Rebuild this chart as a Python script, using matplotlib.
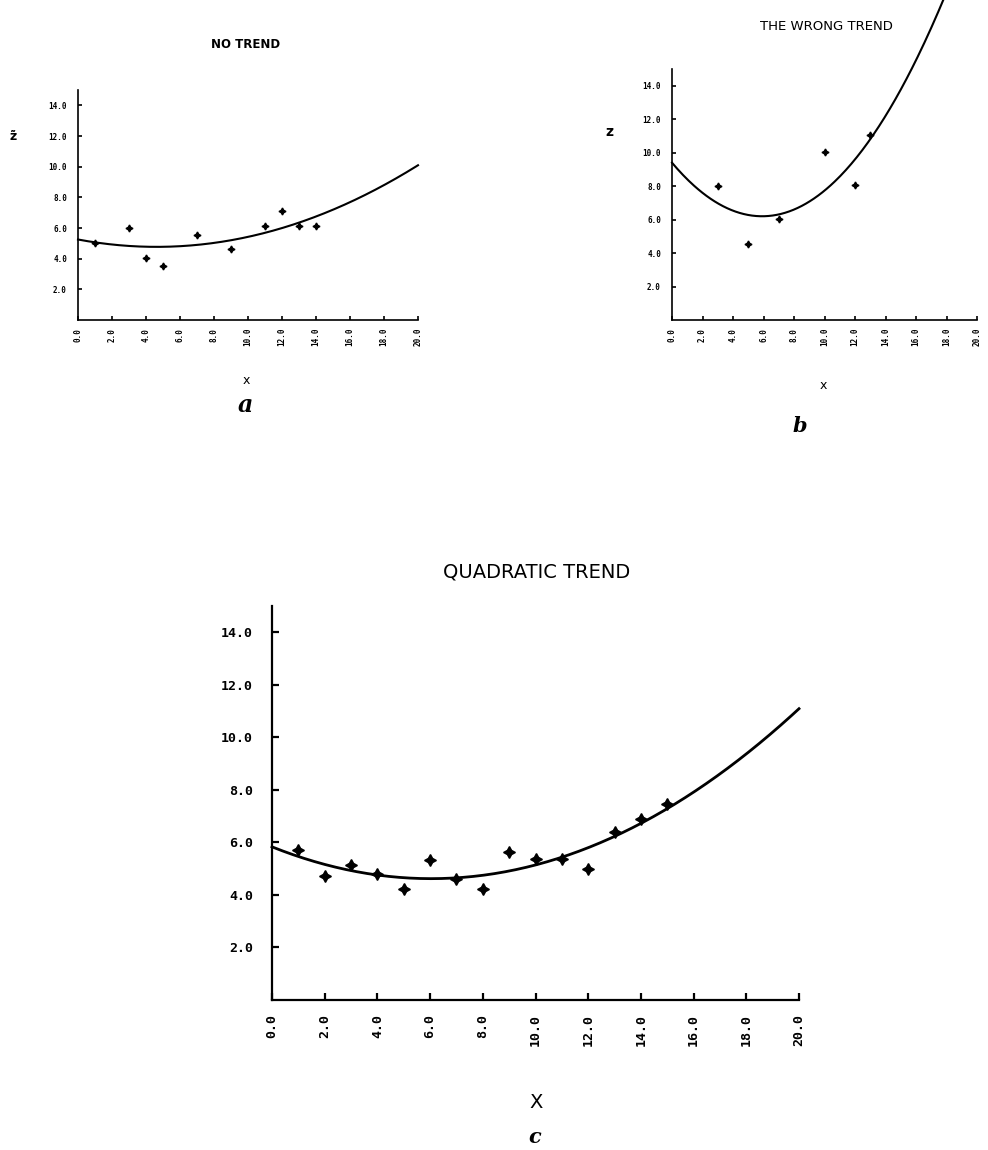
import numpy as np
import matplotlib
matplotlib.use("Agg")
from matplotlib import pyplot as plt

# data
xa = [1, 3, 4, 5, 7, 9, 11, 12, 13, 14]
za = [5.0, 6.0, 4.05, 3.55, 5.55, 4.6, 6.1, 7.1, 6.1, 6.1]
xb = [3, 5, 7, 10, 12, 13]
zb = [8.0, 4.55, 6.05, 10.05, 8.05, 11.05]
xc = [1, 2, 3, 4, 5, 6, 7, 8, 9, 10, 11, 12, 13, 14, 15]
zc = [5.70, 4.71, 5.13, 4.81, 4.22, 5.32, 4.62, 4.24, 5.64, 5.38, 5.38, 4.98, 6.40, 6.88, 7.48]

# quadratic trends, vertex form  z = c*(x-h)^2 + k
trend_a = (0.0225, 4.62, 4.77)
trend_b = (0.0916, 5.91, 6.20)
trend_c = (0.0332, 6.04, 4.62)

xticks = [0, 2, 4, 6, 8, 10, 12, 14, 16, 18, 20]
yticks = [2, 4, 6, 8, 10, 12, 14]

W, H = 988, 1150
fig = plt.figure(figsize=(W / 100, H / 100), dpi=100)


def box(l, t, r, b):
    return [l / W, 1 - b / H, (r - l) / W, (b - t) / H]


def setup(ax, fs, lw, tl):
    ax.set_xlim(0, 20)
    ax.set_ylim(0, 15)
    for s in ['top', 'right']:
        ax.spines[s].set_visible(False)
    for s in ['left', 'bottom']:
        ax.spines[s].set_linewidth(lw)
    ax.set_xticks(xticks)
    ax.set_yticks(yticks)
    ax.set_xticklabels(['%.1f' % v for v in xticks], rotation=90,
                       family='DejaVu Sans Mono', weight='bold', fontsize=fs)
    ax.set_yticklabels(['%.1f' % v for v in yticks],
                       family='DejaVu Sans Mono', weight='bold', fontsize=fs)
    ax.tick_params(direction='in', length=tl, width=lw)
    ax.tick_params(axis='y', pad=tl + fs * 0.9)
    ax.tick_params(axis='x', pad=tl + fs * 0.5)


def curve(ax, t, x1, lw):
    c, h, k = t
    xs = np.linspace(0, x1, 200)
    ax.plot(xs, c * (xs - h) ** 2 + k, color='black', lw=lw, clip_on=False)


star = (4, 1, 0)

# panel a
ax1 = fig.add_axes(box(78, 90, 418, 320))
setup(ax1, 5.5, 1.2, 3)
curve(ax1, trend_a, 20, 1.5)
ax1.plot(xa, za, ls='none', marker=star, ms=5, color='black')

# panel b
ax2 = fig.add_axes(box(672, 69, 977, 320))
setup(ax2, 5.5, 1.2, 3)
curve(ax2, trend_b, 18, 1.5)
ax2.plot(xb, zb, ls='none', marker=star, ms=5, color='black')

# panel c
ax3 = fig.add_axes(box(272, 606, 799, 1000))
setup(ax3, 9.5, 1.6, 5)
curve(ax3, trend_c, 20, 2.0)
ax3.plot(xc, zc, ls='none', marker=star, ms=8.5, color='black')

# titles and labels
fig.text(246 / W, 1 - 45 / H, 'NO TREND', ha='center', va='center',
         family='DejaVu Sans', weight='bold', fontsize=8.5)
fig.text(826 / W, 1 - 27 / H, 'THE WRONG TREND', ha='center', va='center',
         family='DejaVu Sans', fontsize=9.5)
fig.text(537 / W, 1 - 572 / H, 'QUADRATIC TREND', ha='center', va='center',
         family='DejaVu Sans', fontsize=14)

fig.text(13 / W, 1 - 136 / H, 'z\u0303', ha='center', va='center',
         family='DejaVu Sans', weight='bold', fontsize=9)
fig.text(609 / W, 1 - 132 / H, 'z', ha='center', va='center',
         family='DejaVu Sans', weight='bold', fontsize=10)

fig.text(246 / W, 1 - 380 / H, 'x', ha='center', va='center',
         family='DejaVu Sans', fontsize=9)
fig.text(823 / W, 1 - 385 / H, 'x', ha='center', va='center',
         family='DejaVu Sans', fontsize=9)
fig.text(536 / W, 1 - 1102 / H, 'X', ha='center', va='center',
         family='DejaVu Sans', fontsize=14)

fig.text(245 / W, 1 - 405 / H, 'a', ha='center', va='center',
         family='DejaVu Serif', style='italic', weight='bold', fontsize=17)
fig.text(800 / W, 1 - 426 / H, 'b', ha='center', va='center',
         family='DejaVu Serif', style='italic', weight='bold', fontsize=15)
fig.text(535 / W, 1 - 1137 / H, 'c', ha='center', va='center',
         family='DejaVu Serif', style='italic', weight='bold', fontsize=15)

fig.savefig('out.png', dpi=100)
